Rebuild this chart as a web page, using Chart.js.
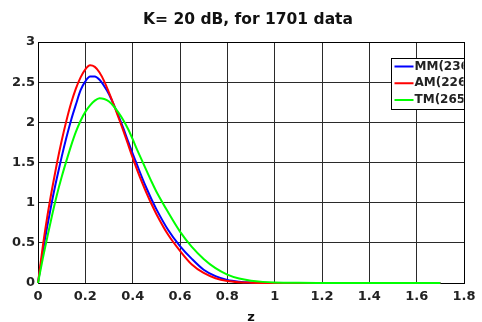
<!DOCTYPE html>
<html>
<head>
<meta charset="utf-8">
<script src="https://cdn.jsdelivr.net/npm/chart.js@4"></script>
<style>
  html, body { margin: 0; padding: 0; background: #fff; }
  #wrap { width: 482px; height: 322px; }
</style>
</head>
<body>
<div id="wrap"><canvas id="pdfChart" width="482" height="322"></canvas></div>
<script>
// z grid the curves were read at
const zValues = [0, 0.02, 0.04, 0.06, 0.08, 0.1, 0.12, 0.14, 0.16, 0.18, 0.2, 0.22, 0.24, 0.26, 0.28, 0.3,
  0.32, 0.34, 0.36, 0.38, 0.4, 0.42, 0.44, 0.46, 0.48, 0.5, 0.55, 0.6, 0.65, 0.7, 0.75, 0.8, 0.85, 0.9,
  0.95, 1.0, 1.1, 1.2, 1.3, 1.4, 1.5, 1.6, 1.7];

// MM (blue)
const mmValues = [0, 0.38, 0.72, 1.03, 1.31, 1.57, 1.81, 2.03, 2.22, 2.4, 2.51, 2.57, 2.57, 2.53, 2.45, 2.35,
  2.22, 2.08, 1.93, 1.77, 1.61, 1.46, 1.31, 1.17, 1.04, 0.92, 0.66, 0.46, 0.3, 0.165, 0.085, 0.038, 0.016, 0.006,
  0.002, 0.001, 0, 0, 0, 0, 0, 0, 0];

// AM (red)
const amValues = [0, 0.45, 0.84, 1.18, 1.49, 1.77, 2.02, 2.24, 2.42, 2.56, 2.66, 2.71, 2.69, 2.62, 2.51, 2.37,
  2.22, 2.06, 1.9, 1.73, 1.56, 1.4, 1.25, 1.11, 0.98, 0.86, 0.6, 0.4, 0.23, 0.125, 0.06, 0.025, 0.01, 0.004,
  0.001, 0, 0, 0, 0, 0, 0, 0, 0];

// TM (green)
const tmValues = [0, 0.3, 0.58, 0.85, 1.1, 1.32, 1.52, 1.71, 1.88, 2.02, 2.13, 2.21, 2.27, 2.3, 2.29, 2.26,
  2.2, 2.12, 2.03, 1.92, 1.79, 1.65, 1.52, 1.39, 1.26, 1.14, 0.88, 0.64, 0.45, 0.3, 0.185, 0.105, 0.055, 0.028,
  0.014, 0.007, 0.002, 0.0005, 0, 0, 0, 0, 0];

const seriesLabels = ['MM(236)', 'AM(226)', 'TM(265)'];
const seriesColors = ['#0000ff', '#ff0000', '#00ff00'];
const chartTitle = 'K= 20 dB, for 1701 data';

const xTickStep = 0.2;
const yTickStep = 0.5;

function toPoints(ys) {
  return zValues.map((z, i) => ({ x: z, y: ys[i] }));
}

const FONT = "'DejaVu Sans', sans-serif";

// title centred over the axes like matlab does
const axesTitle = {
  id: 'axesTitle',
  afterDraw(chart) {
    const { ctx, chartArea: a } = chart;
    ctx.save();
    ctx.font = 'bold 15.5px ' + FONT;
    ctx.fillStyle = '#111';
    ctx.textAlign = 'center';
    ctx.textBaseline = 'middle';
    ctx.fillText(chartTitle, (a.left + a.right) / 2 - 3, 20);
    ctx.restore();
  }
};

// box round the axes, drawn under the curves
const axesBox = {
  id: 'axesBox',
  beforeDatasetsDraw(chart) {
    const { ctx, chartArea: a } = chart;
    ctx.save();
    ctx.strokeStyle = '#000';
    ctx.lineWidth = 1;
    ctx.strokeRect(Math.round(a.left) + 0.5, Math.round(a.top) + 0.5,
      Math.round(a.right - a.left), Math.round(a.bottom - a.top));
    ctx.restore();
  }
};

// legend in the top right corner, text cut at the box edge
const boxLegend = {
  id: 'boxLegend',
  afterDraw(chart) {
    const { ctx, chartArea: a } = chart;
    const right = Math.round(a.right) + 0.5;
    const left = right - 73;
    const top = 58.5;
    const height = 51;
    ctx.save();
    ctx.fillStyle = '#fff';
    ctx.fillRect(left, top, right - left, height);
    ctx.strokeStyle = '#000';
    ctx.lineWidth = 1;
    ctx.strokeRect(left, top, right - left, height);

    ctx.beginPath();
    ctx.rect(left, top, right - left - 1, height);
    ctx.clip();
    ctx.font = 'bold 12px ' + FONT;
    ctx.textBaseline = 'middle';
    ctx.textAlign = 'left';
    seriesLabels.forEach((label, i) => {
      const y = top + 8 + i * 16.7;
      ctx.strokeStyle = seriesColors[i];
      ctx.lineWidth = 2;
      ctx.beginPath();
      ctx.moveTo(left + 3, y);
      ctx.lineTo(left + 22, y);
      ctx.stroke();
      ctx.fillStyle = '#222';
      ctx.fillText(label, left + 23, y);
    });
    ctx.restore();
  }
};

new Chart(document.getElementById('pdfChart').getContext('2d'), {
  type: 'line',
  data: {
    datasets: seriesLabels.map((label, i) => ({
      label: label,
      data: toPoints([mmValues, amValues, tmValues][i]),
      borderColor: seriesColors[i],
      borderWidth: 2,
      pointRadius: 0,
      cubicInterpolationMode: 'monotone',
      fill: false,
      clip: false,
      order: 2 - i // green on top
    }))
  },
  options: {
    responsive: false,
    animation: false,
    devicePixelRatio: 1,
    layout: { padding: { left: 0, right: 18, top: 42, bottom: 0 } },
    plugins: {
      legend: { display: false },
      tooltip: { enabled: false },
      title: { display: false }
    },
    scales: {
      x: {
        type: 'linear',
        min: 0,
        max: 1.8,
        afterFit: s => { s.height = 39; },
        ticks: {
          stepSize: xTickStep,
          autoSkip: false,
          maxRotation: 0,
          padding: 6,
          color: '#222',
          font: { family: FONT, size: 13, weight: 'bold' },
          callback: v => String(Math.round(v * 10) / 10)
        },
        grid: { color: '#2a2a2a', lineWidth: 1, drawTicks: false },
        border: { display: true, color: '#000' },
        title: {
          display: true,
          text: 'z',
          color: '#111',
          padding: { top: 0, bottom: -2 },
          font: { family: FONT, size: 13, weight: 'bold', lineHeight: 1 }
        }
      },
      y: {
        type: 'linear',
        min: 0,
        max: 3,
        afterFit: s => { s.width = 38; },
        ticks: {
          stepSize: yTickStep,
          padding: 3,
          color: '#222',
          font: { family: FONT, size: 13, weight: 'bold' },
          callback: v => String(Math.round(v * 10) / 10)
        },
        grid: { color: '#2a2a2a', lineWidth: 1, drawTicks: false },
        border: { display: true, color: '#000' }
      }
    }
  },
  plugins: [axesBox, axesTitle, boxLegend]
});
</script>
</body>
</html>
